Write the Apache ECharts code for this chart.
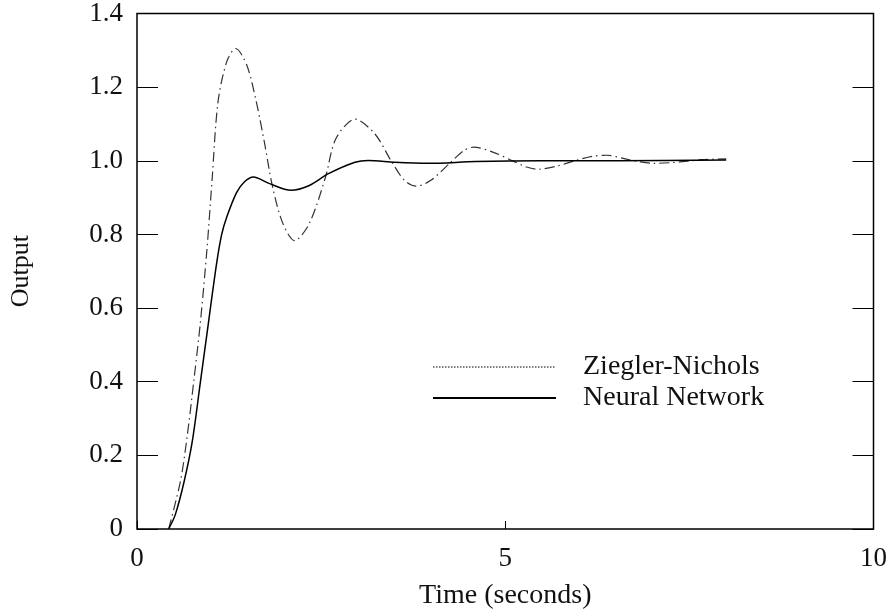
<!DOCTYPE html>
<html>
<head>
<meta charset="utf-8">
<script src="https://cdn.jsdelivr.net/npm/echarts@6/dist/echarts.min.js"></script>
<style>
html, body { margin: 0; padding: 0; background: #fff; }
#chart { width: 890px; height: 615px; }
</style>
</head>
<body>
<div id="chart"></div>
<script>
// step response
var znTime = [0.43, 0.59, 0.68, 0.77, 0.86, 0.95, 1.02, 1.1, 1.22, 1.34, 1.49, 1.62, 1.73, 1.84, 1.98, 2.14, 2.34, 2.56, 2.7, 2.96, 3.23, 3.45, 3.63, 3.79, 3.99, 4.26, 4.44, 4.57, 4.84, 5.11, 5.29, 5.45, 5.69, 5.96, 6.18, 6.38, 6.63, 6.83, 7.01, 7.26, 7.48, 7.66, 8.0];
var znOutput = [0, 0.13, 0.25, 0.4, 0.56, 0.76, 0.95, 1.16, 1.27, 1.305, 1.26, 1.16, 1.05, 0.93, 0.83, 0.783, 0.83, 0.956, 1.06, 1.113, 1.073, 1.0, 0.947, 0.931, 0.947, 0.996, 1.028, 1.037, 1.023, 0.999, 0.983, 0.977, 0.985, 1.001, 1.012, 1.015, 1.005, 0.997, 0.993, 0.995, 0.999, 1.003, 1.005];
var nnTime = [0.43, 0.52, 0.64, 0.75, 0.86, 0.97, 1.08, 1.15, 1.22, 1.35, 1.46, 1.58, 1.8, 2.09, 2.34, 2.6, 2.96, 3.14, 3.5, 3.95, 4.6, 5.5, 6.5, 8.0];
var nnOutput = [0, 0.039, 0.129, 0.237, 0.398, 0.56, 0.72, 0.8, 0.848, 0.913, 0.943, 0.956, 0.938, 0.92, 0.933, 0.965, 0.996, 1.001, 0.996, 0.993, 0.998, 1.0, 1.0, 1.002];
var xTicks = [0, 5, 10];
var yTicks = [0, 0.2, 0.4, 0.6, 0.8, 1.0, 1.2, 1.4];

var pairs = function (xs, ys) {
    var out = [];
    for (var i = 0; i < xs.length; i++) {
        out.push([xs[i], ys[i]]);
    }
    return out;
};

var serif = '"Liberation Serif", "DejaVu Serif", serif';
var chart = echarts.init(document.getElementById('chart'));
var option = {
    backgroundColor: '#fff',
    animation: false,
    grid: {
        left: 136, right: 9, top: 12, bottom: 84,
        show: true, borderColor: '#000', borderWidth: 1.5, backgroundColor: 'transparent'
    },
    legend: {
        orient: 'vertical',
        left: 427, top: 348,
        itemWidth: 123, itemHeight: 20, itemGap: 3,
        itemStyle: { opacity: 0 },
        textStyle: { fontFamily: serif, fontSize: 28, color: '#111', padding: [0, 0, 0, 22] },
        data: [
            { name: 'Ziegler-Nichols', lineStyle: { type: 'dotted', width: 1.5, color: '#555' } },
            { name: 'Neural Network' }
        ]
    },
    xAxis: {
        type: 'value',
        min: xTicks[0], max: xTicks[xTicks.length - 1], interval: 5,
        name: 'Time (seconds)', nameLocation: 'middle', nameGap: 53,
        nameTextStyle: { fontFamily: serif, fontSize: 28, color: '#111' },
        axisLine: { show: false },
        axisTick: { show: true, inside: true, length: 8, lineStyle: { color: '#000', width: 1 } },
        axisLabel: { fontFamily: serif, fontSize: 27, color: '#111', margin: 16 },
        splitLine: { show: false }
    },
    yAxis: [{
        type: 'value',
        min: yTicks[0], max: yTicks[yTicks.length - 1], interval: 0.2,
        name: 'Output', nameLocation: 'middle', nameGap: 103,
        nameTextStyle: { fontFamily: serif, fontSize: 26, color: '#111' },
        axisLine: { show: false },
        axisTick: { show: true, inside: true, length: 21, lineStyle: { color: '#000', width: 1 } },
        axisLabel: {
            fontFamily: serif, fontSize: 27, color: '#111', margin: 14,
            formatter: function (v) { return v === 0 ? '0' : v.toFixed(1); }
        },
        splitLine: { show: false }
    }, {
        type: 'value', position: 'right',
        min: yTicks[0], max: yTicks[yTicks.length - 1], interval: 0.2,
        axisLine: { show: false },
        axisTick: { show: true, inside: true, length: 21, lineStyle: { color: '#000', width: 1 } },
        axisLabel: { show: false },
        splitLine: { show: false }
    }],
    series: [{
        name: 'Ziegler-Nichols',
        type: 'line',
        symbol: 'none',
        smooth: 0.3,
        lineStyle: { color: '#333', width: 1.2, type: [10, 4, 1.5, 4] },
        itemStyle: { color: '#555' },
        data: pairs(znTime, znOutput)
    }, {
        name: 'Neural Network',
        type: 'line',
        symbol: 'none',
        smooth: 0.3,
        lineStyle: { color: '#000', width: 1.5 },
        itemStyle: { color: '#000' },
        data: pairs(nnTime, nnOutput)
    }]
};
chart.setOption(option);
</script>
</body>
</html>
